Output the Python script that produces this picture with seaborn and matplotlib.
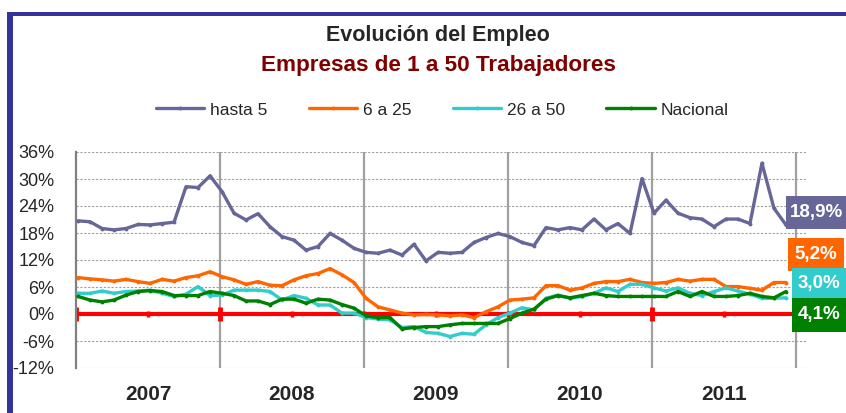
import numpy as np
import pandas as pd
import seaborn as sns
import matplotlib.pyplot as plt
from matplotlib.patches import Rectangle

# datos mensuales ene-2007 .. dic-2011 (variación % anual del empleo)
anios = ['2007', '2008', '2009', '2010', '2011']
meses = np.arange(60)
hasta_5 = [20.7, 20.5, 19.0, 18.7, 19.0, 19.9, 19.8, 20.1, 20.4, 28.3, 28.1, 30.7,
           27.2, 22.4, 20.9, 22.3, 19.4, 17.2, 16.4, 14.2, 15.0, 17.9, 16.4, 14.6,
           13.7, 13.5, 14.2, 13.1, 15.5, 11.8, 13.7, 13.5, 13.7, 15.9, 17.0, 17.9,
           17.2, 15.9, 15.2, 19.2, 18.7, 19.2, 18.7, 21.1, 18.7, 20.1, 17.9, 30.1,
           22.4, 25.3, 22.4, 21.4, 21.1, 19.4, 21.1, 21.1, 20.1, 33.5, 23.5, 19.8]
de_6_a_25 = [8.1, 7.8, 7.6, 7.3, 7.7, 7.2, 6.8, 7.7, 7.3, 8.1, 8.5, 9.4,
             8.3, 7.6, 6.6, 7.2, 6.4, 6.3, 7.6, 8.5, 9.0, 10.1, 8.7, 7.0,
             3.5, 1.6, 0.9, 0.2, -0.2, -0.1, -0.2, -0.4, -0.2, -0.8, 0.5, 1.6,
             3.1, 3.3, 3.6, 6.3, 6.3, 5.3, 5.8, 6.8, 7.2, 7.2, 7.7, 7.0,
             6.8, 7.0, 7.7, 7.3, 7.7, 7.7, 6.1, 6.1, 5.7, 5.3, 7.0, 7.0]
de_26_a_50 = [4.6, 4.6, 5.1, 4.6, 5.0, 5.1, 5.3, 4.6, 3.9, 4.4, 6.1, 4.1,
              4.2, 5.3, 5.3, 5.3, 5.0, 3.1, 4.1, 3.5, 2.0, 2.0, 0.2, 0.2,
              -0.8, -1.1, -1.3, -3.0, -2.8, -4.1, -4.3, -5.0, -4.3, -4.5, -2.4, -0.8,
              0.2, 1.4, 0.9, 3.5, 4.2, 3.5, 3.9, 4.6, 5.8, 5.0, 6.6, 6.6,
              5.8, 5.1, 5.8, 4.6, 4.1, 5.0, 5.8, 5.1, 4.4, 3.5, 3.5, 3.6]
nacional = [3.9, 3.1, 2.7, 3.1, 4.2, 5.0, 5.2, 5.0, 4.1, 4.1, 4.1, 5.0,
            4.6, 4.1, 2.9, 2.9, 2.1, 3.3, 3.3, 2.4, 3.3, 3.1, 2.1, 1.3,
            -0.4, -0.8, -0.8, -3.3, -3.0, -2.8, -2.8, -2.4, -2.1, -2.1, -2.1, -2.1,
            -1.0, 0.2, 1.1, 3.3, 4.1, 3.6, 4.1, 4.6, 4.1, 3.9, 3.9, 3.9,
            3.9, 3.9, 5.0, 3.9, 5.0, 3.9, 3.9, 4.1, 4.6, 3.9, 3.6, 5.0]
series = ['hasta 5', '6 a 25', '26 a 50', 'Nacional']
colores = ['#666699', '#FF6600', '#33CCCC', '#008000']
ultimos = ['18,9%', '5,2%', '3,0%', '4,1%']
y_ticks = np.arange(-12, 37, 6)

df = pd.DataFrame({'mes': np.tile(meses, 4),
                   'valor': np.concatenate([hasta_5, de_6_a_25, de_26_a_50, nacional]),
                   'serie': np.repeat(series, 60)})

sns.set_style('white')
plt.rcParams['font.family'] = ['Liberation Sans', 'DejaVu Sans']

W, H = 846, 413
def fx(px):
    return px / W
def fy(py):
    return 1 - py / H

fig = plt.figure(figsize=(W / 100, H / 100), dpi=100)
ax = fig.add_axes([fx(76), fy(368), fx(806) - fx(76), fy(152) - fy(368)])

# limites de año (el primer mes queda un poco a la derecha del eje)
x0 = -0.17
limites = [x0 + 12 * k for k in range(len(anios) + 1)]
for xv in limites[1:]:
    ax.axvline(xv, color='#A0A0A0', lw=1.6, zorder=1)

# linea roja del 0%
ax.plot([limites[0], limites[-1]], [0, 0], color='#FF0000', lw=3, zorder=2, solid_capstyle='butt')
semestres = [x0 + 6 * k for k in range(2 * len(anios))]
grandes = [semestres[0], semestres[2], semestres[8]]
ax.plot(grandes, [0] * len(grandes), ls='none', marker='|', ms=10, mew=3.5, color='#FF0000', zorder=2)
chicos = [s for s in semestres if s not in grandes]
ax.plot(chicos, [0] * len(chicos), ls='none', marker='|', ms=5, mew=2.5, color='#FF0000', zorder=2)

sns.lineplot(data=df, x='mes', y='valor', hue='serie', hue_order=series, palette=colores,
             linewidth=2.4, marker='o', markersize=2.8, markeredgewidth=0, ax=ax, zorder=3)

handles, labels = ax.get_legend_handles_labels()
ax.get_legend().remove()
fig.legend(handles, labels, loc='center', bbox_to_anchor=(fx(442), fy(110)), ncol=4,
           frameon=False, fontsize=12.5, handlelength=2.8, columnspacing=2.4, handletextpad=0.3)

ax.set_xlim(x0, 60.67)
ax.set_ylim(-12, 36)
ax.set_yticks(y_ticks)
ax.set_yticklabels([f'{v}%' for v in y_ticks])
ax.set_xticks([x0 + 12 * k + 6 for k in range(len(anios))])
ax.set_xticklabels(anios, fontweight='bold', fontsize=15)
ax.tick_params(axis='x', length=0, pad=12)
ax.tick_params(axis='y', direction='out', length=6.5, width=1.5, color='#808080', labelsize=13, pad=9)
ax.yaxis.grid(True, color='#A0A0A0', linestyle=(0, (2, 1.5)), lw=0.8)
ax.xaxis.grid(False)
for s in ['top', 'right', 'bottom']:
    ax.spines[s].set_visible(False)
ax.spines['left'].set_color('#808080')
ax.spines['left'].set_linewidth(1.6)
ax.set_xlabel('')
ax.set_ylabel('')

# titulos
fig.text(fx(438), fy(35), 'Evolución del Empleo', ha='center', va='center', fontsize=15.5, fontweight='bold')
fig.text(fx(438), fy(65), 'Empresas de 1 a 50 Trabajadores', ha='center', va='center',
         fontsize=16.2, fontweight='bold', color='#800000')

# etiquetas del ultimo dato
cajas = [(786, 196, 846, 229), (788, 238, 844, 271), (792, 268, 846, 299), (792, 298, 846, 332)]
for (a, b, c, d), txt, col in zip(cajas, ultimos, colores):
    fig.add_artist(Rectangle((fx(a), fy(d)), fx(c) - fx(a), fy(b) - fy(d), transform=fig.transFigure,
                             facecolor=col, edgecolor='none'))
    fig.text(fx((a + c) / 2), fy((b + d) / 2), txt, ha='center', va='center', color='white',
             fontsize=13.5, fontweight='bold')

# marco
fig.add_artist(Rectangle((fx(7), 0), fx(6), fy(13), transform=fig.transFigure, facecolor='#333399', edgecolor='none'))
fig.add_artist(Rectangle((fx(7), fy(16)), 1, fy(12) - fy(16), transform=fig.transFigure, facecolor='#333399', edgecolor='none'))

fig.savefig('out.png', dpi=100)
